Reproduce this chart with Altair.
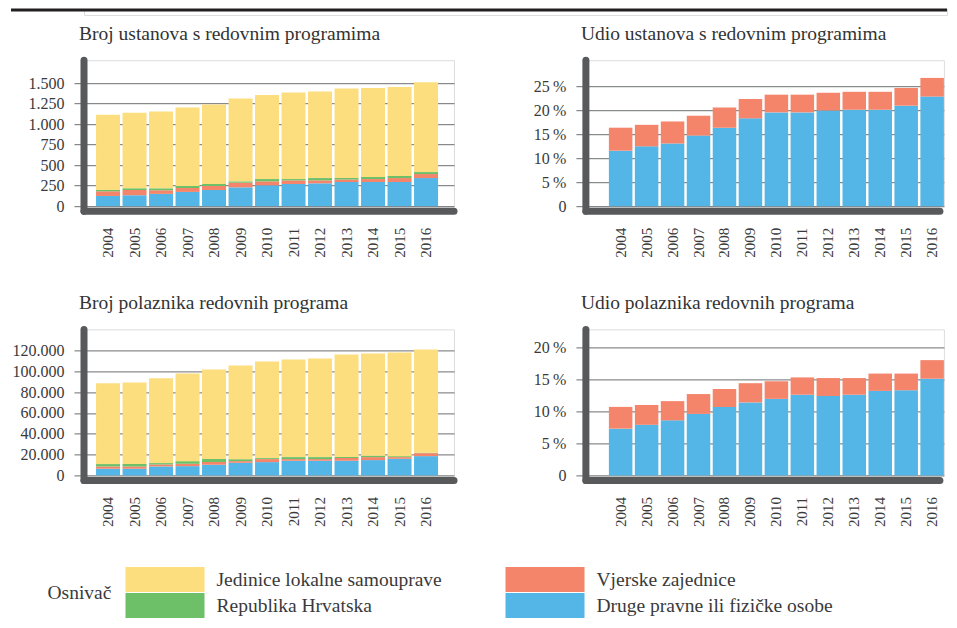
import altair as alt
import pandas as pd

# ---------------- data ----------------
years = [str(y) for y in range(2004, 2017)]

S_JLS = "Jedinice lokalne samouprave"
S_VZ = "Vjerske zajednice"
S_RH = "Republika Hrvatska"
S_DR = "Druge pravne ili fizičke osobe"

# Broj ustanova s redovnim programima
ust_druge = [125, 133, 150, 174, 198, 230, 255, 271, 279, 295, 295, 295, 343]
ust_vjerske = [57, 65, 44, 48, 48, 57, 48, 44, 36, 32, 36, 48, 49]
ust_rh = [16, 20, 24, 24, 25, 16, 28, 16, 28, 16, 25, 25, 24]
ust_jls = [917, 921, 937, 958, 969, 1010, 1026, 1055, 1055, 1091, 1086, 1086, 1095]

# Udio ustanova s redovnim programima (%)
udio_ust_druge = [11.6, 12.5, 13.1, 14.75, 16.4, 18.35, 19.6, 19.6, 20.0, 20.15, 20.15, 21.0, 22.9]
udio_ust_vjerske = [4.8, 4.5, 4.6, 4.15, 4.2, 4.05, 3.7, 3.7, 3.7, 3.75, 3.75, 3.7, 3.9]

# Broj polaznika redovnih programa
pol_druge = [6400, 6400, 8600, 8900, 10200, 12100, 12750, 14050, 14050, 14050, 14700, 15950, 18500]
pol_vjerske = [2200, 2200, 1900, 2250, 2550, 1600, 2900, 1600, 1600, 2550, 2850, 1600, 2850]
pol_rh = [2250, 2250, 1300, 2550, 2900, 1900, 950, 1900, 1900, 950, 1250, 950, 350]
pol_jls = [77500, 78450, 81350, 84200, 86100, 89950, 92800, 93800, 94750, 98550, 98250, 99550, 99200]

# Udio polaznika redovnih programa (%)
udio_pol_druge = [7.3, 7.9, 8.6, 9.6, 10.7, 11.4, 11.95, 12.6, 12.4, 12.6, 13.2, 13.3, 15.1]
udio_pol_vjerske = [3.4, 3.1, 3.0, 3.1, 2.8, 3.0, 2.75, 2.7, 2.8, 2.6, 2.7, 2.6, 2.9]

ticks_ust = [0, 250, 500, 750, 1000, 1250, 1500]
ticks_udio_ust = [0, 5, 10, 15, 20, 25]
ticks_pol = [0, 20000, 40000, 60000, 80000, 100000, 120000]
ticks_udio_pol = [0, 5, 10, 15, 20]

legend_order = [S_JLS, S_VZ, S_RH, S_DR]
colors = ["#FDDE7E", "#F4846A", "#6DC068", "#53B6E6"]
stack_rank = {S_DR: 0, S_VZ: 1, S_RH: 2, S_JLS: 3}

FONT = "Liberation Serif, Times New Roman, serif"
TXT = "#3a3a3a"
GRID = "#6d6e70"
AXIS = "#58595b"
H = 146


def long_df(series):
    rows = []
    for name, vals in series.items():
        for y, v in zip(years, vals):
            rows.append({"year": y, "series": name, "value": v, "ord": stack_rank[name]})
    return pd.DataFrame(rows)


color_enc = alt.Color(
    "series:N",
    scale=alt.Scale(domain=legend_order, range=colors),
    legend=alt.Legend(
        title="Osnivač", orient="none", legendX=-36.5, legendY=558,
        columns=2, direction="horizontal",
        titleOrient="left", titleAnchor="middle", titleBaseline="middle",
        titleFont=FONT, titleFontSize=19.5, titleFontWeight="normal", titleColor=TXT,
        titlePadding=14,
        labelFont=FONT, labelFontSize=19.5, labelColor=TXT, labelOffset=66, labelLimit=400,
        symbolType="M-1,-1H5.32V1H-1Z", symbolSize=625, symbolStrokeWidth=0,
        symbolOpacity=1, rowPadding=1, columnPadding=63, padding=0,
    ),
)


def panel(df, ymax, tvals, label_expr, title, width, po, align_, extent, xextent, lpad, rule_end):
    bars = alt.Chart(df).mark_bar().encode(
        x=alt.X("year:O", title=None,
                scale=alt.Scale(paddingInner=0.094, paddingOuter=po, align=align_),
                axis=alt.Axis(labelAngle=270, ticks=False, domain=False, labelPadding=lpad,
                              labelFont=FONT, labelFontSize=15, labelColor=TXT, grid=False,
                              minExtent=xextent)),
        y=alt.Y("value:Q", title=None, stack="zero",
                scale=alt.Scale(domain=[0, ymax], nice=False, zero=True),
                axis=alt.Axis(values=tvals, labelExpr=label_expr, domain=False,
                              grid=True, gridColor=GRID, gridWidth=1,
                              tickSize=10, tickColor=GRID, tickWidth=1, labelPadding=10,
                              labelFont=FONT, labelFontSize=16, labelColor=TXT,
                              minExtent=extent, maxExtent=extent)),
        color=color_enc,
        order=alt.Order("ord:Q", sort="ascending"),
    )
    dummy = pd.DataFrame({"a": [0]})
    vrule = alt.Chart(dummy).mark_rule(color=AXIS, strokeWidth=7, strokeCap="round").encode(
        x=alt.value(0), y=alt.value(0), y2=alt.value(H + 5))
    hrule = alt.Chart(dummy).mark_rule(color=AXIS, strokeWidth=7, strokeCap="round").encode(
        y=alt.value(H + 5), x=alt.value(0), x2=alt.value(rule_end))
    return alt.layer(bars, vrule, hrule).properties(
        width=width, height=H,
        title=alt.TitleParams(text=title, anchor="start", frame="group", dx=-5, offset=-2.5,
                              baseline="alphabetic", font=FONT, fontSize=19.5,
                              fontWeight="normal", color="#333333"),
    )


dot_fmt = "datum.value == 0 ? '0' : replace(format(datum.value, ','), ',', '.')"
pct_fmt = "datum.value == 0 ? '0' : datum.value + '\u2009%'"

tl = panel(long_df({S_DR: ust_druge, S_VZ: ust_vjerske, S_RH: ust_rh, S_JLS: ust_jls}),
           1780, ticks_ust, dot_fmt, "Broj ustanova s redovnim programima",
           370, 0.528, 0.43, 75, 77.6, 21, 370)
tr = panel(long_df({S_DR: udio_ust_druge, S_VZ: udio_ust_vjerske}),
           30.5, ticks_udio_ust, pct_fmt, "Udio ustanova s redovnim programima",
           358, 0.443, 1.0, 50, 77.6, 21, 354)
bl = panel(long_df({S_DR: pol_druge, S_VZ: pol_vjerske, S_RH: pol_rh, S_JLS: pol_jls}),
           140160, ticks_pol, dot_fmt, "Broj polaznika redovnih programa",
           370, 0.528, 0.43, 75, 10, 21, 370)
br = panel(long_df({S_DR: udio_pol_druge, S_VZ: udio_pol_vjerske}),
           22.8, ticks_udio_pol, pct_fmt, "Udio polaznika redovnih programa",
           358, 0.443, 1.0, 50, 10, 21, 354)

topline = alt.Chart(pd.DataFrame({"a": [0]})).mark_rule(color="#231f20", strokeWidth=3).encode(
    x=alt.value(-73), x2=alt.value(863), y=alt.value(1)).properties(width=863, height=6)

row1 = alt.hconcat(tl, tr, spacing=73.9)
row2 = alt.hconcat(bl, br, spacing=73.9)

chart = alt.vconcat(topline, row1, row2, spacing=7.2).properties(padding=0).configure_view(
    stroke=None).configure(font=FONT)

chart.save("out.html", embed_options={"renderer": "svg", "actions": False})
